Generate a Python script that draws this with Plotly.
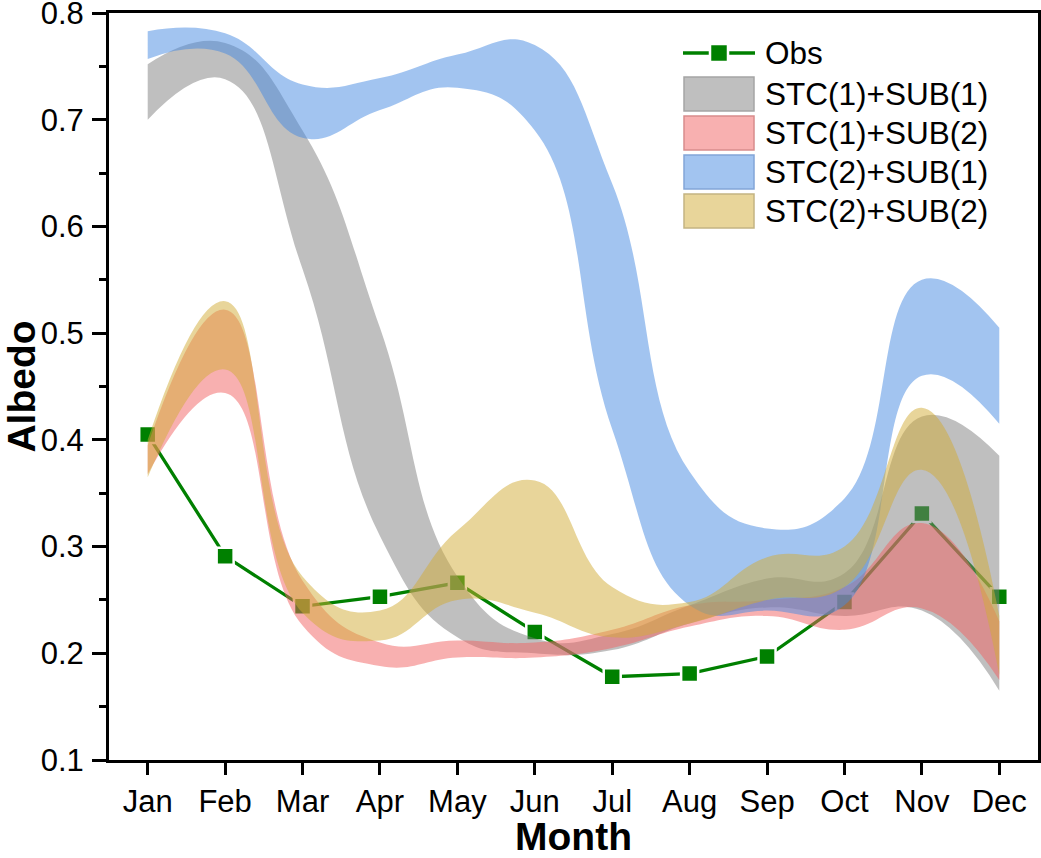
import plotly.graph_objects as go

months = ["Jan", "Feb", "Mar", "Apr", "May", "Jun", "Jul", "Aug", "Sep", "Oct", "Nov", "Dec"]

obs = [0.405, 0.291, 0.244, 0.253, 0.266, 0.220, 0.178, 0.181, 0.197, 0.248, 0.331, 0.253]

stc1_sub1_lo = [0.700, 0.738, 0.560, 0.310, 0.215, 0.200, 0.203, 0.228, 0.243, 0.235, 0.240, 0.165]
stc1_sub1_hi = [0.752, 0.772, 0.690, 0.505, 0.272, 0.214, 0.218, 0.245, 0.270, 0.275, 0.422, 0.385]

stc1_sub2_lo = [0.368, 0.444, 0.226, 0.188, 0.196, 0.196, 0.205, 0.225, 0.235, 0.222, 0.242, 0.175]
stc1_sub2_hi = [0.395, 0.522, 0.268, 0.210, 0.212, 0.210, 0.222, 0.245, 0.250, 0.262, 0.322, 0.230]

stc2_sub1_lo = [0.757, 0.762, 0.683, 0.709, 0.730, 0.690, 0.410, 0.245, 0.240, 0.245, 0.460, 0.415]
stc2_sub1_hi = [0.783, 0.781, 0.733, 0.739, 0.761, 0.770, 0.640, 0.370, 0.317, 0.345, 0.550, 0.505]

stc2_sub2_lo = [0.365, 0.466, 0.238, 0.212, 0.250, 0.238, 0.215, 0.228, 0.250, 0.262, 0.372, 0.180]
stc2_sub2_hi = [0.400, 0.530, 0.272, 0.240, 0.315, 0.362, 0.262, 0.248, 0.290, 0.300, 0.430, 0.235]

y_ticks = [0.1, 0.2, 0.3, 0.4, 0.5, 0.6, 0.7, 0.8]
y_minor = [0.15, 0.25, 0.35, 0.45, 0.55, 0.65, 0.75]

band_names = ["STC(1)+SUB(1)", "STC(1)+SUB(2)", "STC(2)+SUB(1)", "STC(2)+SUB(2)"]
band_fill = ["rgba(128,128,128,0.5)", "rgba(241,97,97,0.5)", "rgba(69,137,225,0.5)", "rgba(209,171,53,0.5)"]
band_edge = ["rgb(165,165,165)", "rgb(215,140,140)", "rgb(130,165,215)", "rgb(195,180,130)"]
bands = [
    (stc1_sub1_lo, stc1_sub1_hi),
    (stc1_sub2_lo, stc1_sub2_hi),
    (stc2_sub1_lo, stc2_sub1_hi),
    (stc2_sub2_lo, stc2_sub2_hi),
]

GREEN = "#008000"
W, H = 1041, 858
L, R, T, B = 109, 1038, 13, 760
SMOOTH = 1.3

fig = go.Figure()

fig.add_trace(go.Scatter(
    x=months, y=obs, mode="lines+markers", name="Obs",
    line=dict(color=GREEN, width=3.3),
    marker=dict(symbol="square", size=17, color=GREEN, line=dict(color="white", width=2.5)),
    showlegend=False,
))

for name, (lo, hi), fc in zip(band_names, bands, band_fill):
    fig.add_trace(go.Scatter(
        x=months, y=lo, mode="lines", line=dict(width=0, shape="spline", smoothing=SMOOTH),
        showlegend=False, hoverinfo="skip",
    ))
    fig.add_trace(go.Scatter(
        x=months, y=hi, mode="lines", line=dict(width=0, shape="spline", smoothing=SMOOTH),
        fill="tonexty", fillcolor=fc, name=name, showlegend=False,
    ))

def px(xp):
    return (xp - L) / (R - L)

def py(yp):
    return (B - yp) / (B - T)

shapes = []
annotations = []
FONT = "Liberation Sans, Arial, sans-serif"

# Obs legend entry
shapes.append(dict(type="line", xref="paper", yref="paper", x0=px(683), x1=px(755), y0=py(53), y1=py(53),
                   line=dict(color=GREEN, width=3.3)))
shapes.append(dict(type="rect", xref="paper", yref="paper", x0=px(710), x1=px(728), y0=py(44), y1=py(62),
                   fillcolor=GREEN, line=dict(color="white", width=2.5)))
annotations.append(dict(text="Obs", xref="paper", yref="paper", x=px(763), y=py(53), xanchor="left",
                        yanchor="middle", showarrow=False, font=dict(size=31.5, color="black", family=FONT)))
rows = [94, 133, 172, 211]
for name, fc, ec, cy in zip(band_names, band_fill, band_edge, rows):
    shapes.append(dict(type="rect", xref="paper", yref="paper", x0=px(684), x1=px(754), y0=py(cy - 17), y1=py(cy + 17),
                       fillcolor=fc, line=dict(color=ec, width=1.5)))
    annotations.append(dict(text=name, xref="paper", yref="paper", x=px(763), y=py(cy), xanchor="left",
                            yanchor="middle", showarrow=False, font=dict(size=31.5, color="black", family=FONT)))

fig.update_layout(
    width=W, height=H,
    margin=dict(l=L, r=W - R, t=T, b=H - B, autoexpand=False),
    plot_bgcolor="white", paper_bgcolor="white",
    font=dict(family=FONT, color="black"),
    shapes=shapes, annotations=annotations,
    showlegend=False,
)
fig.update_xaxes(
    type="category", range=[-0.5, 11.5],
    showline=True, linecolor="black", linewidth=3, mirror=True,
    ticks="outside", ticklen=12, tickwidth=2.5, tickcolor="black",
    tickfont=dict(size=31, family=FONT), ticklabelstandoff=0, ticklabeloverflow="allow",
    showgrid=False, zeroline=False,
    title=dict(text="Month", font=dict(size=39, family=FONT, weight="bold"), standoff=10),
)
fig.update_yaxes(
    range=[0.1, 0.8], tickvals=y_ticks, ticktext=[f"{v:.1f}" for v in y_ticks],
    showline=True, linecolor="black", linewidth=3, mirror=True,
    ticks="outside", ticklen=14, tickwidth=2.5, tickcolor="black",
    tickfont=dict(size=31, family=FONT), ticklabelstandoff=2, ticklabeloverflow="allow",
    minor=dict(ticks="outside", ticklen=7, tickwidth=2.5, tickcolor="black",
               tickvals=y_minor, showgrid=False),
    showgrid=False, zeroline=False,
    title=dict(text="Albedo", font=dict(size=39, family=FONT, weight="bold"), standoff=6),
)

fig.write_html(
    "out.html",
    config={"displayModeBar": False},
    post_script="document.body.style.margin='0';document.body.style.overflow='hidden';",
)
